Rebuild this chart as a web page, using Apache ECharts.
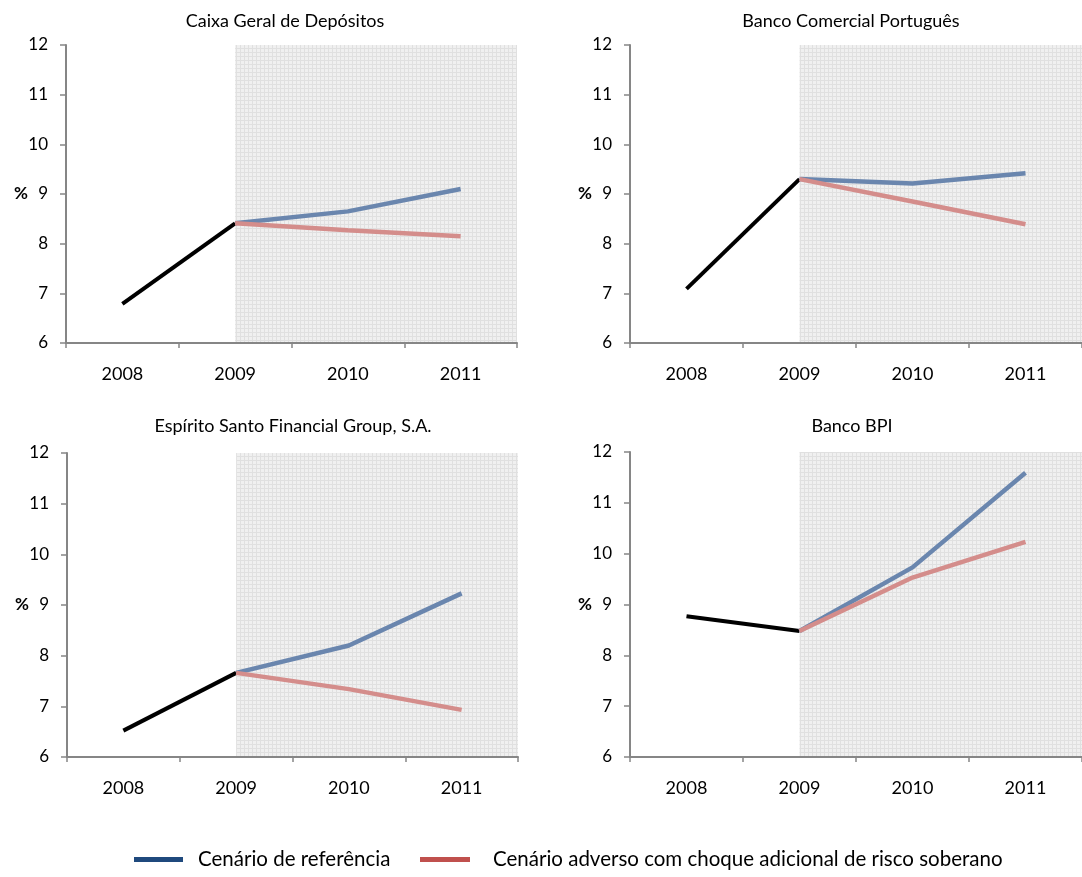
<!DOCTYPE html>
<html>
<head>
<meta charset="utf-8">
<script src="https://cdn.jsdelivr.net/npm/echarts@6/dist/echarts.min.js"></script>
<style>
  html, body { margin: 0; padding: 0; background: #ffffff; }
  #chart { width: 1082px; height: 877px; }
</style>
</head>
<body>
<div id="chart"></div>
<script>
// ---- data ----
const years = ['2008', '2009', '2010', '2011'];
const banks = ['Caixa Geral de Depósitos', 'Banco Comercial Português', 'Espírito Santo Financial Group, S.A.', 'Banco BPI'];
const hist2008 = [6.79, 7.09, 6.52, 8.77];
const hist2009 = [8.41, 9.30, 7.66, 8.48];
const base2010 = [8.65, 9.21, 8.20, 9.73];
const base2011 = [9.10, 9.42, 9.23, 11.59];
const adv2010  = [8.27, 8.85, 7.34, 9.53];
const adv2011  = [8.15, 8.39, 6.93, 10.23];
const yTicks = [6, 7, 8, 9, 10, 11, 12];
const projectionStart = '2009';
const baseName = 'Cenário de referência';
const advName = 'Cenário adverso com choque adicional de risco soberano';
const histName = 'Histórico';

// ---- layout / style ----
const FONT = 'Lato';
const grids = [
  { left: 66,  top: 45,  width: 451, height: 298 },
  { left: 630, top: 45,  width: 452, height: 298 },
  { left: 67,  top: 453, width: 451, height: 304 },
  { left: 630, top: 452, width: 452, height: 305 }
];
const titlePos = [
  { left: 280, top: 7 },
  { left: 846, top: 7 },
  { left: 288, top: 412 },
  { left: 847, top: 412 }
];
const shadeTop = [12.18, 12.0, 12.0, 12.0];

// grid-paper pattern for the projection area
const pc = document.createElement('canvas');
pc.width = 4; pc.height = 4;
const pctx = pc.getContext('2d');
pctx.fillStyle = '#f0f0f0'; pctx.fillRect(0, 0, 4, 4);
pctx.fillStyle = '#e0e0e0'; pctx.fillRect(0, 0, 4, 1); pctx.fillRect(0, 0, 1, 4);
const shadePattern = { image: pc, repeat: 'repeat' };

const axisGray = '#868686';
const blueLine = '#6a86ae';
const redLine = '#d48d8b';

const option = {
  animation: false,
  backgroundColor: '#ffffff',
  title: banks.map((b, i) => ({
    text: b,
    left: titlePos[i].left,
    top: titlePos[i].top,
    textAlign: 'center',
    textStyle: { fontFamily: FONT, fontSize: 18, fontWeight: 'normal', color: '#000' }
  })),
  legend: [
    {
      left: 134, top: 849, icon: 'rect', itemWidth: 49, itemHeight: 5, padding: 0,
      selectedMode: false,
      data: [{ name: baseName, itemStyle: { color: '#1f497d' } }],
      textStyle: { fontFamily: FONT, fontSize: 20.5, color: '#000', padding: [0, 0, 0, 10] }
    },
    {
      left: 420, top: 849, icon: 'rect', itemWidth: 50, itemHeight: 5, padding: 0,
      selectedMode: false,
      data: [{ name: advName, itemStyle: { color: '#c0504d' } }],
      textStyle: { fontFamily: FONT, fontSize: 20.5, color: '#000', padding: [0, 0, 0, 18] }
    }
  ],
  grid: grids.map(g => Object.assign({ containLabel: false }, g)),
  xAxis: [],
  yAxis: [],
  series: []
};

banks.forEach((b, i) => {
  // category axis for the data
  option.xAxis.push({
    type: 'category', gridIndex: i, data: years, boundaryGap: true,
    axisLine: { lineStyle: { color: axisGray, width: 2 } },
    axisTick: { show: true, length: 5, lineStyle: { color: axisGray, width: 1.5 } },
    axisLabel: { fontFamily: FONT, fontSize: 18, color: '#000', margin: 22 },
    splitLine: { show: false }, z: 5
  });
  // hidden linear axis spanning the same band (0..4) for the projection shading
  option.xAxis.push({
    type: 'value', gridIndex: i, min: 0, max: years.length, show: false
  });
  option.yAxis.push({
    type: 'value', gridIndex: i, min: yTicks[0], max: yTicks[yTicks.length - 1], interval: 1,
    name: '%', nameLocation: 'middle', nameRotate: 0, nameGap: 38, nameMoveOverlap: false,
    nameTextStyle: { fontFamily: FONT, fontSize: 17, fontWeight: 'bold', color: '#000' },
    axisLine: { show: true, lineStyle: { color: axisGray, width: 2 } },
    axisTick: { show: true, length: 6, lineStyle: { color: axisGray, width: 1.5 } },
    axisLabel: { fontFamily: FONT, fontSize: 17, color: '#000', margin: 18 },
    splitLine: { show: false }, z: 5
  });

  const startIdx = years.indexOf(projectionStart);
  option.series.push({
    type: 'line', name: '_shade' + i, xAxisIndex: 2 * i + 1, yAxisIndex: i,
    data: [[startIdx + 0.5, null]], symbol: 'none', silent: true, z: 0,
    lineStyle: { width: 0 },
    markArea: {
      silent: true,
      itemStyle: { color: shadePattern },
      data: [[{ coord: [startIdx + 0.5, yTicks[0]] }, { coord: [years.length, shadeTop[i]] }]]
    }
  });
  option.series.push({
    type: 'line', name: histName, xAxisIndex: 2 * i, yAxisIndex: i,
    data: [hist2008[i], hist2009[i], null, null],
    symbol: 'none', lineStyle: { color: '#000', width: 4 }, itemStyle: { color: '#000' }, z: 3
  });
  option.series.push({
    type: 'line', name: baseName, xAxisIndex: 2 * i, yAxisIndex: i,
    data: [null, hist2009[i], base2010[i], base2011[i]],
    symbol: 'none', lineStyle: { color: blueLine, width: 4.5 }, itemStyle: { color: blueLine }, z: 3
  });
  option.series.push({
    type: 'line', name: advName, xAxisIndex: 2 * i, yAxisIndex: i,
    data: [null, hist2009[i], adv2010[i], adv2011[i]],
    symbol: 'none', lineStyle: { color: redLine, width: 4.5 }, itemStyle: { color: redLine }, z: 4
  });
});

const chart = echarts.init(document.getElementById('chart'), null, { renderer: 'canvas' });
chart.setOption(option);
</script>
</body>
</html>
